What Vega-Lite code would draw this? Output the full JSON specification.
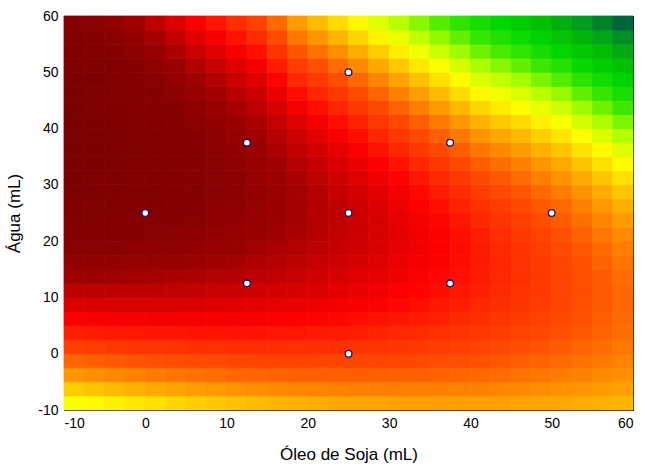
{
"$schema": "https://vega.github.io/schema/vega-lite/v6.json",
"width": 569, "height": 394,
"autosize": {"type": "none"},
"padding": {"left": 64, "top": 16, "right": 12, "bottom": 58},
"background": "white",
"config": {"view": {"stroke": "#000", "strokeWidth": 1}, "font": "Liberation Sans",
 "axis": {"labelFont": "Liberation Sans", "titleFont": "Liberation Sans", "labelFontSize": 14, "titleFontSize": 17, "titleFontWeight": "normal", "labelColor": "#000", "titleColor": "#000", "tickColor": "#000", "domain": false, "grid": false, "tickSize": -5, "labelPadding": 11, "titlePadding": 14, "labelExpr": "'' + datum.value"}},
"resolve": {"scale": {"x": "independent", "y": "independent"}, "axis": {"x": "independent", "y": "independent"}},
"layer": [
{"data": {"values": [
{"x":-8.75,"y":-8.75,"d":2296},{"x":-8.75,"y":-6.25,"d":2064},{"x":-8.75,"y":-3.75,"d":1845},{"x":-8.75,"y":-1.25,"d":1638},{"x":-8.75,"y":1.25,"d":1444},{"x":-8.75,"y":3.75,"d":1262},{"x":-8.75,"y":6.25,"d":1093},{"x":-8.75,"y":8.75,"d":936},{"x":-8.75,"y":11.25,"d":792},{"x":-8.75,"y":13.75,"d":660},{"x":-8.75,"y":16.25,"d":541},{"x":-8.75,"y":18.75,"d":434},{"x":-8.75,"y":21.25,"d":340},{"x":-8.75,"y":23.75,"d":258},{"x":-8.75,"y":26.25,"d":189},{"x":-8.75,"y":28.75,"d":132},{"x":-8.75,"y":31.25,"d":88},{"x":-8.75,"y":33.75,"d":56},{"x":-8.75,"y":36.25,"d":37},{"x":-8.75,"y":38.75,"d":30},{"x":-8.75,"y":41.25,"d":34},{"x":-8.75,"y":43.75,"d":45},{"x":-8.75,"y":46.25,"d":67},{"x":-8.75,"y":48.75,"d":97},{"x":-8.75,"y":51.25,"d":139},{"x":-8.75,"y":53.75,"d":193},{"x":-8.75,"y":56.25,"d":259},{"x":-8.75,"y":58.75,"d":338},
{"x":-6.25,"y":-8.75,"d":2252},{"x":-6.25,"y":-6.25,"d":2026},{"x":-6.25,"y":-3.75,"d":1812},{"x":-6.25,"y":-1.25,"d":1611},{"x":-6.25,"y":1.25,"d":1422},{"x":-6.25,"y":3.75,"d":1246},{"x":-6.25,"y":6.25,"d":1082},{"x":-6.25,"y":8.75,"d":931},{"x":-6.25,"y":11.25,"d":792},{"x":-6.25,"y":13.75,"d":666},{"x":-6.25,"y":16.25,"d":552},{"x":-6.25,"y":18.75,"d":451},{"x":-6.25,"y":21.25,"d":362},{"x":-6.25,"y":23.75,"d":286},{"x":-6.25,"y":26.25,"d":222},{"x":-6.25,"y":28.75,"d":171},{"x":-6.25,"y":31.25,"d":132},{"x":-6.25,"y":33.75,"d":106},{"x":-6.25,"y":36.25,"d":92},{"x":-6.25,"y":38.75,"d":91},{"x":-6.25,"y":41.25,"d":97},{"x":-6.25,"y":43.75,"d":114},{"x":-6.25,"y":46.25,"d":139},{"x":-6.25,"y":48.75,"d":174},{"x":-6.25,"y":51.25,"d":221},{"x":-6.25,"y":53.75,"d":280},{"x":-6.25,"y":56.25,"d":351},{"x":-6.25,"y":58.75,"d":437},
{"x":-3.75,"y":-8.75,"d":2211},{"x":-3.75,"y":-6.25,"d":1990},{"x":-3.75,"y":-3.75,"d":1782},{"x":-3.75,"y":-1.25,"d":1586},{"x":-3.75,"y":1.25,"d":1403},{"x":-3.75,"y":3.75,"d":1232},{"x":-3.75,"y":6.25,"d":1074},{"x":-3.75,"y":8.75,"d":928},{"x":-3.75,"y":11.25,"d":795},{"x":-3.75,"y":13.75,"d":674},{"x":-3.75,"y":16.25,"d":566},{"x":-3.75,"y":18.75,"d":470},{"x":-3.75,"y":21.25,"d":387},{"x":-3.75,"y":23.75,"d":316},{"x":-3.75,"y":26.25,"d":258},{"x":-3.75,"y":28.75,"d":212},{"x":-3.75,"y":31.25,"d":179},{"x":-3.75,"y":33.75,"d":158},{"x":-3.75,"y":36.25,"d":150},{"x":-3.75,"y":38.75,"d":153},{"x":-3.75,"y":41.25,"d":164},{"x":-3.75,"y":43.75,"d":185},{"x":-3.75,"y":46.25,"d":217},{"x":-3.75,"y":48.75,"d":259},{"x":-3.75,"y":51.25,"d":313},{"x":-3.75,"y":53.75,"d":379},{"x":-3.75,"y":56.25,"d":458},{"x":-3.75,"y":58.75,"d":551},
{"x":-1.25,"y":-8.75,"d":2172},{"x":-1.25,"y":-6.25,"d":1957},{"x":-1.25,"y":-3.75,"d":1754},{"x":-1.25,"y":-1.25,"d":1564},{"x":-1.25,"y":1.25,"d":1386},{"x":-1.25,"y":3.75,"d":1221},{"x":-1.25,"y":6.25,"d":1068},{"x":-1.25,"y":8.75,"d":928},{"x":-1.25,"y":11.25,"d":800},{"x":-1.25,"y":13.75,"d":685},{"x":-1.25,"y":16.25,"d":582},{"x":-1.25,"y":18.75,"d":492},{"x":-1.25,"y":21.25,"d":414},{"x":-1.25,"y":23.75,"d":349},{"x":-1.25,"y":26.25,"d":296},{"x":-1.25,"y":28.75,"d":256},{"x":-1.25,"y":31.25,"d":228},{"x":-1.25,"y":33.75,"d":213},{"x":-1.25,"y":36.25,"d":210},{"x":-1.25,"y":38.75,"d":217},{"x":-1.25,"y":41.25,"d":233},{"x":-1.25,"y":43.75,"d":260},{"x":-1.25,"y":46.25,"d":298},{"x":-1.25,"y":48.75,"d":347},{"x":-1.25,"y":51.25,"d":408},{"x":-1.25,"y":53.75,"d":482},{"x":-1.25,"y":56.25,"d":569},{"x":-1.25,"y":58.75,"d":670},
{"x":1.25,"y":-8.75,"d":2136},{"x":1.25,"y":-6.25,"d":1926},{"x":1.25,"y":-3.75,"d":1729},{"x":1.25,"y":-1.25,"d":1544},{"x":1.25,"y":1.25,"d":1372},{"x":1.25,"y":3.75,"d":1212},{"x":1.25,"y":6.25,"d":1065},{"x":1.25,"y":8.75,"d":930},{"x":1.25,"y":11.25,"d":808},{"x":1.25,"y":13.75,"d":698},{"x":1.25,"y":16.25,"d":601},{"x":1.25,"y":18.75,"d":516},{"x":1.25,"y":21.25,"d":444},{"x":1.25,"y":23.75,"d":384},{"x":1.25,"y":26.25,"d":337},{"x":1.25,"y":28.75,"d":302},{"x":1.25,"y":31.25,"d":280},{"x":1.25,"y":33.75,"d":270},{"x":1.25,"y":36.25,"d":272},{"x":1.25,"y":38.75,"d":285},{"x":1.25,"y":41.25,"d":308},{"x":1.25,"y":43.75,"d":342},{"x":1.25,"y":46.25,"d":388},{"x":1.25,"y":48.75,"d":446},{"x":1.25,"y":51.25,"d":517},{"x":1.25,"y":53.75,"d":599},{"x":1.25,"y":56.25,"d":696},{"x":1.25,"y":58.75,"d":806},
{"x":3.75,"y":-8.75,"d":2102},{"x":3.75,"y":-6.25,"d":1898},{"x":3.75,"y":-3.75,"d":1706},{"x":3.75,"y":-1.25,"d":1527},{"x":3.75,"y":1.25,"d":1360},{"x":3.75,"y":3.75,"d":1206},{"x":3.75,"y":6.25,"d":1064},{"x":3.75,"y":8.75,"d":935},{"x":3.75,"y":11.25,"d":818},{"x":3.75,"y":13.75,"d":714},{"x":3.75,"y":16.25,"d":622},{"x":3.75,"y":18.75,"d":543},{"x":3.75,"y":21.25,"d":476},{"x":3.75,"y":23.75,"d":422},{"x":3.75,"y":26.25,"d":380},{"x":3.75,"y":28.75,"d":351},{"x":3.75,"y":31.25,"d":334},{"x":3.75,"y":33.75,"d":330},{"x":3.75,"y":36.25,"d":337},{"x":3.75,"y":38.75,"d":356},{"x":3.75,"y":41.25,"d":387},{"x":3.75,"y":43.75,"d":430},{"x":3.75,"y":46.25,"d":484},{"x":3.75,"y":48.75,"d":551},{"x":3.75,"y":51.25,"d":631},{"x":3.75,"y":53.75,"d":723},{"x":3.75,"y":56.25,"d":828},{"x":3.75,"y":58.75,"d":947},
{"x":6.25,"y":-8.75,"d":2071},{"x":6.25,"y":-6.25,"d":1872},{"x":6.25,"y":-3.75,"d":1686},{"x":6.25,"y":-1.25,"d":1512},{"x":6.25,"y":1.25,"d":1351},{"x":6.25,"y":3.75,"d":1202},{"x":6.25,"y":6.25,"d":1066},{"x":6.25,"y":8.75,"d":942},{"x":6.25,"y":11.25,"d":831},{"x":6.25,"y":13.75,"d":732},{"x":6.25,"y":16.25,"d":646},{"x":6.25,"y":18.75,"d":572},{"x":6.25,"y":21.25,"d":511},{"x":6.25,"y":23.75,"d":462},{"x":6.25,"y":26.25,"d":426},{"x":6.25,"y":28.75,"d":402},{"x":6.25,"y":31.25,"d":391},{"x":6.25,"y":33.75,"d":392},{"x":6.25,"y":36.25,"d":406},{"x":6.25,"y":38.75,"d":432},{"x":6.25,"y":41.25,"d":471},{"x":6.25,"y":43.75,"d":522},{"x":6.25,"y":46.25,"d":586},{"x":6.25,"y":48.75,"d":662},{"x":6.25,"y":51.25,"d":751},{"x":6.25,"y":53.75,"d":852},{"x":6.25,"y":56.25,"d":966},{"x":6.25,"y":58.75,"d":1092},
{"x":8.75,"y":-8.75,"d":2042},{"x":8.75,"y":-6.25,"d":1849},{"x":8.75,"y":-3.75,"d":1668},{"x":8.75,"y":-1.25,"d":1500},{"x":8.75,"y":1.25,"d":1344},{"x":8.75,"y":3.75,"d":1201},{"x":8.75,"y":6.25,"d":1070},{"x":8.75,"y":8.75,"d":952},{"x":8.75,"y":11.25,"d":846},{"x":8.75,"y":13.75,"d":753},{"x":8.75,"y":16.25,"d":672},{"x":8.75,"y":18.75,"d":604},{"x":8.75,"y":21.25,"d":548},{"x":8.75,"y":23.75,"d":505},{"x":8.75,"y":26.25,"d":474},{"x":8.75,"y":28.75,"d":456},{"x":8.75,"y":31.25,"d":450},{"x":8.75,"y":33.75,"d":457},{"x":8.75,"y":36.25,"d":476},{"x":8.75,"y":38.75,"d":508},{"x":8.75,"y":41.25,"d":552},{"x":8.75,"y":43.75,"d":609},{"x":8.75,"y":46.25,"d":678},{"x":8.75,"y":48.75,"d":760},{"x":8.75,"y":51.25,"d":854},{"x":8.75,"y":53.75,"d":961},{"x":8.75,"y":56.25,"d":1080},{"x":8.75,"y":58.75,"d":1212},
{"x":11.25,"y":-8.75,"d":2015},{"x":11.25,"y":-6.25,"d":1828},{"x":11.25,"y":-3.75,"d":1652},{"x":11.25,"y":-1.25,"d":1490},{"x":11.25,"y":1.25,"d":1339},{"x":11.25,"y":3.75,"d":1202},{"x":11.25,"y":6.25,"d":1076},{"x":11.25,"y":8.75,"d":964},{"x":11.25,"y":11.25,"d":863},{"x":11.25,"y":13.75,"d":776},{"x":11.25,"y":16.25,"d":700},{"x":11.25,"y":18.75,"d":638},{"x":11.25,"y":21.25,"d":587},{"x":11.25,"y":23.75,"d":550},{"x":11.25,"y":26.25,"d":524},{"x":11.25,"y":28.75,"d":512},{"x":11.25,"y":31.25,"d":511},{"x":11.25,"y":33.75,"d":524},{"x":11.25,"y":36.25,"d":548},{"x":11.25,"y":38.75,"d":586},{"x":11.25,"y":41.25,"d":635},{"x":11.25,"y":43.75,"d":698},{"x":11.25,"y":46.25,"d":772},{"x":11.25,"y":48.75,"d":860},{"x":11.25,"y":51.25,"d":959},{"x":11.25,"y":53.75,"d":1072},{"x":11.25,"y":56.25,"d":1196},{"x":11.25,"y":58.75,"d":1334},
{"x":13.75,"y":-8.75,"d":1991},{"x":13.75,"y":-6.25,"d":1809},{"x":13.75,"y":-3.75,"d":1639},{"x":13.75,"y":-1.25,"d":1482},{"x":13.75,"y":1.25,"d":1337},{"x":13.75,"y":3.75,"d":1205},{"x":13.75,"y":6.25,"d":1085},{"x":13.75,"y":8.75,"d":978},{"x":13.75,"y":11.25,"d":883},{"x":13.75,"y":13.75,"d":801},{"x":13.75,"y":16.25,"d":731},{"x":13.75,"y":18.75,"d":674},{"x":13.75,"y":21.25,"d":629},{"x":13.75,"y":23.75,"d":597},{"x":13.75,"y":26.25,"d":577},{"x":13.75,"y":28.75,"d":570},{"x":13.75,"y":31.25,"d":575},{"x":13.75,"y":33.75,"d":593},{"x":13.75,"y":36.25,"d":623},{"x":13.75,"y":38.75,"d":666},{"x":13.75,"y":41.25,"d":721},{"x":13.75,"y":43.75,"d":789},{"x":13.75,"y":46.25,"d":869},{"x":13.75,"y":48.75,"d":962},{"x":13.75,"y":51.25,"d":1067},{"x":13.75,"y":53.75,"d":1185},{"x":13.75,"y":56.25,"d":1315},{"x":13.75,"y":58.75,"d":1458},
{"x":16.25,"y":-8.75,"d":1970},{"x":16.25,"y":-6.25,"d":1793},{"x":16.25,"y":-3.75,"d":1629},{"x":16.25,"y":-1.25,"d":1477},{"x":16.25,"y":1.25,"d":1338},{"x":16.25,"y":3.75,"d":1211},{"x":16.25,"y":6.25,"d":1097},{"x":16.25,"y":8.75,"d":995},{"x":16.25,"y":11.25,"d":906},{"x":16.25,"y":13.75,"d":829},{"x":16.25,"y":16.25,"d":765},{"x":16.25,"y":18.75,"d":713},{"x":16.25,"y":21.25,"d":674},{"x":16.25,"y":23.75,"d":647},{"x":16.25,"y":26.25,"d":633},{"x":16.25,"y":28.75,"d":631},{"x":16.25,"y":31.25,"d":645},{"x":16.25,"y":33.75,"d":673},{"x":16.25,"y":36.25,"d":715},{"x":16.25,"y":38.75,"d":772},{"x":16.25,"y":41.25,"d":842},{"x":16.25,"y":43.75,"d":924},{"x":16.25,"y":46.25,"d":1019},{"x":16.25,"y":48.75,"d":1125},{"x":16.25,"y":51.25,"d":1244},{"x":16.25,"y":53.75,"d":1372},{"x":16.25,"y":56.25,"d":1511},{"x":16.25,"y":58.75,"d":1660},
{"x":18.75,"y":-8.75,"d":1950},{"x":18.75,"y":-6.25,"d":1779},{"x":18.75,"y":-3.75,"d":1620},{"x":18.75,"y":-1.25,"d":1474},{"x":18.75,"y":1.25,"d":1340},{"x":18.75,"y":3.75,"d":1219},{"x":18.75,"y":6.25,"d":1110},{"x":18.75,"y":8.75,"d":1014},{"x":18.75,"y":11.25,"d":930},{"x":18.75,"y":13.75,"d":859},{"x":18.75,"y":16.25,"d":800},{"x":18.75,"y":18.75,"d":754},{"x":18.75,"y":21.25,"d":720},{"x":18.75,"y":23.75,"d":699},{"x":18.75,"y":26.25,"d":690},{"x":18.75,"y":28.75,"d":696},{"x":18.75,"y":31.25,"d":719},{"x":18.75,"y":33.75,"d":760},{"x":18.75,"y":36.25,"d":816},{"x":18.75,"y":38.75,"d":887},{"x":18.75,"y":41.25,"d":971},{"x":18.75,"y":43.75,"d":1069},{"x":18.75,"y":46.25,"d":1178},{"x":18.75,"y":48.75,"d":1298},{"x":18.75,"y":51.25,"d":1427},{"x":18.75,"y":53.75,"d":1565},{"x":18.75,"y":56.25,"d":1710},{"x":18.75,"y":58.75,"d":1862},
{"x":21.25,"y":-8.75,"d":1933},{"x":21.25,"y":-6.25,"d":1768},{"x":21.25,"y":-3.75,"d":1614},{"x":21.25,"y":-1.25,"d":1474},{"x":21.25,"y":1.25,"d":1345},{"x":21.25,"y":3.75,"d":1230},{"x":21.25,"y":6.25,"d":1126},{"x":21.25,"y":8.75,"d":1036},{"x":21.25,"y":11.25,"d":957},{"x":21.25,"y":13.75,"d":892},{"x":21.25,"y":16.25,"d":838},{"x":21.25,"y":18.75,"d":798},{"x":21.25,"y":21.25,"d":769},{"x":21.25,"y":23.75,"d":754},{"x":21.25,"y":26.25,"d":750},{"x":21.25,"y":28.75,"d":764},{"x":21.25,"y":31.25,"d":795},{"x":21.25,"y":33.75,"d":843},{"x":21.25,"y":36.25,"d":905},{"x":21.25,"y":38.75,"d":983},{"x":21.25,"y":41.25,"d":1073},{"x":21.25,"y":43.75,"d":1176},{"x":21.25,"y":46.25,"d":1289},{"x":21.25,"y":48.75,"d":1414},{"x":21.25,"y":51.25,"d":1546},{"x":21.25,"y":53.75,"d":1688},{"x":21.25,"y":56.25,"d":1836},{"x":21.25,"y":58.75,"d":1991},
{"x":23.75,"y":-8.75,"d":1919},{"x":23.75,"y":-6.25,"d":1759},{"x":23.75,"y":-3.75,"d":1611},{"x":23.75,"y":-1.25,"d":1476},{"x":23.75,"y":1.25,"d":1353},{"x":23.75,"y":3.75,"d":1243},{"x":23.75,"y":6.25,"d":1145},{"x":23.75,"y":8.75,"d":1060},{"x":23.75,"y":11.25,"d":987},{"x":23.75,"y":13.75,"d":927},{"x":23.75,"y":16.25,"d":879},{"x":23.75,"y":18.75,"d":844},{"x":23.75,"y":21.25,"d":821},{"x":23.75,"y":23.75,"d":811},{"x":23.75,"y":26.25,"d":814},{"x":23.75,"y":28.75,"d":836},{"x":23.75,"y":31.25,"d":874},{"x":23.75,"y":33.75,"d":929},{"x":23.75,"y":36.25,"d":998},{"x":23.75,"y":38.75,"d":1081},{"x":23.75,"y":41.25,"d":1177},{"x":23.75,"y":43.75,"d":1285},{"x":23.75,"y":46.25,"d":1403},{"x":23.75,"y":48.75,"d":1531},{"x":23.75,"y":51.25,"d":1668},{"x":23.75,"y":53.75,"d":1813},{"x":23.75,"y":56.25,"d":1964},{"x":23.75,"y":58.75,"d":2120},
{"x":26.25,"y":-8.75,"d":1907},{"x":26.25,"y":-6.25,"d":1752},{"x":26.25,"y":-3.75,"d":1610},{"x":26.25,"y":-1.25,"d":1480},{"x":26.25,"y":1.25,"d":1363},{"x":26.25,"y":3.75,"d":1258},{"x":26.25,"y":6.25,"d":1166},{"x":26.25,"y":8.75,"d":1086},{"x":26.25,"y":11.25,"d":1019},{"x":26.25,"y":13.75,"d":964},{"x":26.25,"y":16.25,"d":922},{"x":26.25,"y":18.75,"d":892},{"x":26.25,"y":21.25,"d":875},{"x":26.25,"y":23.75,"d":870},{"x":26.25,"y":26.25,"d":882},{"x":26.25,"y":28.75,"d":910},{"x":26.25,"y":31.25,"d":956},{"x":26.25,"y":33.75,"d":1017},{"x":26.25,"y":36.25,"d":1093},{"x":26.25,"y":38.75,"d":1181},{"x":26.25,"y":41.25,"d":1283},{"x":26.25,"y":43.75,"d":1395},{"x":26.25,"y":46.25,"d":1518},{"x":26.25,"y":48.75,"d":1650},{"x":26.25,"y":51.25,"d":1791},{"x":26.25,"y":53.75,"d":1938},{"x":26.25,"y":56.25,"d":2092},{"x":26.25,"y":58.75,"d":2250},
{"x":28.75,"y":-8.75,"d":1897},{"x":28.75,"y":-6.25,"d":1748},{"x":28.75,"y":-3.75,"d":1611},{"x":28.75,"y":-1.25,"d":1487},{"x":28.75,"y":1.25,"d":1375},{"x":28.75,"y":3.75,"d":1276},{"x":28.75,"y":6.25,"d":1189},{"x":28.75,"y":8.75,"d":1115},{"x":28.75,"y":11.25,"d":1053},{"x":28.75,"y":13.75,"d":1004},{"x":28.75,"y":16.25,"d":967},{"x":28.75,"y":18.75,"d":943},{"x":28.75,"y":21.25,"d":931},{"x":28.75,"y":23.75,"d":933},{"x":28.75,"y":26.25,"d":952},{"x":28.75,"y":28.75,"d":989},{"x":28.75,"y":31.25,"d":1041},{"x":28.75,"y":33.75,"d":1109},{"x":28.75,"y":36.25,"d":1190},{"x":28.75,"y":38.75,"d":1284},{"x":28.75,"y":41.25,"d":1391},{"x":28.75,"y":43.75,"d":1508},{"x":28.75,"y":46.25,"d":1635},{"x":28.75,"y":48.75,"d":1771},{"x":28.75,"y":51.25,"d":1914},{"x":28.75,"y":53.75,"d":2065},{"x":28.75,"y":56.25,"d":2221},{"x":28.75,"y":58.75,"d":2382},
{"x":31.25,"y":-8.75,"d":1890},{"x":31.25,"y":-6.25,"d":1746},{"x":31.25,"y":-3.75,"d":1615},{"x":31.25,"y":-1.25,"d":1496},{"x":31.25,"y":1.25,"d":1390},{"x":31.25,"y":3.75,"d":1296},{"x":31.25,"y":6.25,"d":1215},{"x":31.25,"y":8.75,"d":1146},{"x":31.25,"y":11.25,"d":1090},{"x":31.25,"y":13.75,"d":1046},{"x":31.25,"y":16.25,"d":1015},{"x":31.25,"y":18.75,"d":996},{"x":31.25,"y":21.25,"d":990},{"x":31.25,"y":23.75,"d":999},{"x":31.25,"y":26.25,"d":1026},{"x":31.25,"y":28.75,"d":1069},{"x":31.25,"y":31.25,"d":1129},{"x":31.25,"y":33.75,"d":1202},{"x":31.25,"y":36.25,"d":1290},{"x":31.25,"y":38.75,"d":1390},{"x":31.25,"y":41.25,"d":1501},{"x":31.25,"y":43.75,"d":1623},{"x":31.25,"y":46.25,"d":1754},{"x":31.25,"y":48.75,"d":1893},{"x":31.25,"y":51.25,"d":2040},{"x":31.25,"y":53.75,"d":2193},{"x":31.25,"y":56.25,"d":2351},{"x":31.25,"y":58.75,"d":2513},
{"x":33.75,"y":-8.75,"d":1885},{"x":33.75,"y":-6.25,"d":1747},{"x":33.75,"y":-3.75,"d":1621},{"x":33.75,"y":-1.25,"d":1508},{"x":33.75,"y":1.25,"d":1407},{"x":33.75,"y":3.75,"d":1319},{"x":33.75,"y":6.25,"d":1243},{"x":33.75,"y":8.75,"d":1180},{"x":33.75,"y":11.25,"d":1129},{"x":33.75,"y":13.75,"d":1091},{"x":33.75,"y":16.25,"d":1065},{"x":33.75,"y":18.75,"d":1052},{"x":33.75,"y":21.25,"d":1052},{"x":33.75,"y":23.75,"d":1069},{"x":33.75,"y":26.25,"d":1103},{"x":33.75,"y":28.75,"d":1154},{"x":33.75,"y":31.25,"d":1219},{"x":33.75,"y":33.75,"d":1300},{"x":33.75,"y":36.25,"d":1392},{"x":33.75,"y":38.75,"d":1498},{"x":33.75,"y":41.25,"d":1613},{"x":33.75,"y":43.75,"d":1739},{"x":33.75,"y":46.25,"d":1874},{"x":33.75,"y":48.75,"d":2017},{"x":33.75,"y":51.25,"d":2166},{"x":33.75,"y":53.75,"d":2322},{"x":33.75,"y":56.25,"d":2482},{"x":33.75,"y":58.75,"d":2646},
{"x":36.25,"y":-8.75,"d":1883},{"x":36.25,"y":-6.25,"d":1750},{"x":36.25,"y":-3.75,"d":1630},{"x":36.25,"y":-1.25,"d":1522},{"x":36.25,"y":1.25,"d":1427},{"x":36.25,"y":3.75,"d":1344},{"x":36.25,"y":6.25,"d":1274},{"x":36.25,"y":8.75,"d":1216},{"x":36.25,"y":11.25,"d":1171},{"x":36.25,"y":13.75,"d":1138},{"x":36.25,"y":16.25,"d":1118},{"x":36.25,"y":18.75,"d":1110},{"x":36.25,"y":21.25,"d":1117},{"x":36.25,"y":23.75,"d":1142},{"x":36.25,"y":26.25,"d":1184},{"x":36.25,"y":28.75,"d":1241},{"x":36.25,"y":31.25,"d":1313},{"x":36.25,"y":33.75,"d":1399},{"x":36.25,"y":36.25,"d":1497},{"x":36.25,"y":38.75,"d":1607},{"x":36.25,"y":41.25,"d":1728},{"x":36.25,"y":43.75,"d":1858},{"x":36.25,"y":46.25,"d":1996},{"x":36.25,"y":48.75,"d":2142},{"x":36.25,"y":51.25,"d":2294},{"x":36.25,"y":53.75,"d":2452},{"x":36.25,"y":56.25,"d":2614},{"x":36.25,"y":58.75,"d":2779},
{"x":38.75,"y":-8.75,"d":1883},{"x":38.75,"y":-6.25,"d":1756},{"x":38.75,"y":-3.75,"d":1641},{"x":38.75,"y":-1.25,"d":1539},{"x":38.75,"y":1.25,"d":1449},{"x":38.75,"y":3.75,"d":1372},{"x":38.75,"y":6.25,"d":1307},{"x":38.75,"y":8.75,"d":1255},{"x":38.75,"y":11.25,"d":1215},{"x":38.75,"y":13.75,"d":1188},{"x":38.75,"y":16.25,"d":1173},{"x":38.75,"y":18.75,"d":1171},{"x":38.75,"y":21.25,"d":1186},{"x":38.75,"y":23.75,"d":1219},{"x":38.75,"y":26.25,"d":1267},{"x":38.75,"y":28.75,"d":1331},{"x":38.75,"y":31.25,"d":1409},{"x":38.75,"y":33.75,"d":1501},{"x":38.75,"y":36.25,"d":1604},{"x":38.75,"y":38.75,"d":1719},{"x":38.75,"y":41.25,"d":1844},{"x":38.75,"y":43.75,"d":1978},{"x":38.75,"y":46.25,"d":2120},{"x":38.75,"y":48.75,"d":2269},{"x":38.75,"y":51.25,"d":2423},{"x":38.75,"y":53.75,"d":2583},{"x":38.75,"y":56.25,"d":2746},{"x":38.75,"y":58.75,"d":2913},
{"x":41.25,"y":-8.75,"d":1885},{"x":41.25,"y":-6.25,"d":1764},{"x":41.25,"y":-3.75,"d":1654},{"x":41.25,"y":-1.25,"d":1558},{"x":41.25,"y":1.25,"d":1473},{"x":41.25,"y":3.75,"d":1402},{"x":41.25,"y":6.25,"d":1342},{"x":41.25,"y":8.75,"d":1296},{"x":41.25,"y":11.25,"d":1261},{"x":41.25,"y":13.75,"d":1240},{"x":41.25,"y":16.25,"d":1230},{"x":41.25,"y":18.75,"d":1236},{"x":41.25,"y":21.25,"d":1258},{"x":41.25,"y":23.75,"d":1298},{"x":41.25,"y":26.25,"d":1353},{"x":41.25,"y":28.75,"d":1424},{"x":41.25,"y":31.25,"d":1508},{"x":41.25,"y":33.75,"d":1605},{"x":41.25,"y":36.25,"d":1713},{"x":41.25,"y":38.75,"d":1833},{"x":41.25,"y":41.25,"d":1961},{"x":41.25,"y":43.75,"d":2100},{"x":41.25,"y":46.25,"d":2244},{"x":41.25,"y":48.75,"d":2396},{"x":41.25,"y":51.25,"d":2552},{"x":41.25,"y":53.75,"d":2715},{"x":41.25,"y":56.25,"d":2879},{"x":41.25,"y":58.75,"d":3047},
{"x":43.75,"y":-8.75,"d":1890},{"x":43.75,"y":-6.25,"d":1774},{"x":43.75,"y":-3.75,"d":1670},{"x":43.75,"y":-1.25,"d":1579},{"x":43.75,"y":1.25,"d":1500},{"x":43.75,"y":3.75,"d":1434},{"x":43.75,"y":6.25,"d":1380},{"x":43.75,"y":8.75,"d":1339},{"x":43.75,"y":11.25,"d":1310},{"x":43.75,"y":13.75,"d":1294},{"x":43.75,"y":16.25,"d":1290},{"x":43.75,"y":18.75,"d":1302},{"x":43.75,"y":21.25,"d":1329},{"x":43.75,"y":23.75,"d":1372},{"x":43.75,"y":26.25,"d":1430},{"x":43.75,"y":28.75,"d":1501},{"x":43.75,"y":31.25,"d":1585},{"x":43.75,"y":33.75,"d":1682},{"x":43.75,"y":36.25,"d":1790},{"x":43.75,"y":38.75,"d":1910},{"x":43.75,"y":41.25,"d":2039},{"x":43.75,"y":43.75,"d":2178},{"x":43.75,"y":46.25,"d":2325},{"x":43.75,"y":48.75,"d":2481},{"x":43.75,"y":51.25,"d":2643},{"x":43.75,"y":53.75,"d":2813},{"x":43.75,"y":56.25,"d":2987},{"x":43.75,"y":58.75,"d":3168},
{"x":46.25,"y":-8.75,"d":1898},{"x":46.25,"y":-6.25,"d":1787},{"x":46.25,"y":-3.75,"d":1689},{"x":46.25,"y":-1.25,"d":1603},{"x":46.25,"y":1.25,"d":1530},{"x":46.25,"y":3.75,"d":1469},{"x":46.25,"y":6.25,"d":1421},{"x":46.25,"y":8.75,"d":1385},{"x":46.25,"y":11.25,"d":1362},{"x":46.25,"y":13.75,"d":1351},{"x":46.25,"y":16.25,"d":1354},{"x":46.25,"y":18.75,"d":1370},{"x":46.25,"y":21.25,"d":1401},{"x":46.25,"y":23.75,"d":1446},{"x":46.25,"y":26.25,"d":1505},{"x":46.25,"y":28.75,"d":1576},{"x":46.25,"y":31.25,"d":1661},{"x":46.25,"y":33.75,"d":1757},{"x":46.25,"y":36.25,"d":1866},{"x":46.25,"y":38.75,"d":1985},{"x":46.25,"y":41.25,"d":2116},{"x":46.25,"y":43.75,"d":2257},{"x":46.25,"y":46.25,"d":2408},{"x":46.25,"y":48.75,"d":2569},{"x":46.25,"y":51.25,"d":2740},{"x":46.25,"y":53.75,"d":2919},{"x":46.25,"y":56.25,"d":3107},{"x":46.25,"y":58.75,"d":3303},
{"x":48.75,"y":-8.75,"d":1907},{"x":48.75,"y":-6.25,"d":1802},{"x":48.75,"y":-3.75,"d":1709},{"x":48.75,"y":-1.25,"d":1629},{"x":48.75,"y":1.25,"d":1561},{"x":48.75,"y":3.75,"d":1506},{"x":48.75,"y":6.25,"d":1463},{"x":48.75,"y":8.75,"d":1433},{"x":48.75,"y":11.25,"d":1415},{"x":48.75,"y":13.75,"d":1410},{"x":48.75,"y":16.25,"d":1418},{"x":48.75,"y":18.75,"d":1439},{"x":48.75,"y":21.25,"d":1474},{"x":48.75,"y":23.75,"d":1522},{"x":48.75,"y":26.25,"d":1583},{"x":48.75,"y":28.75,"d":1656},{"x":48.75,"y":31.25,"d":1742},{"x":48.75,"y":33.75,"d":1840},{"x":48.75,"y":36.25,"d":1951},{"x":48.75,"y":38.75,"d":2073},{"x":48.75,"y":41.25,"d":2207},{"x":48.75,"y":43.75,"d":2352},{"x":48.75,"y":46.25,"d":2508},{"x":48.75,"y":48.75,"d":2676},{"x":48.75,"y":51.25,"d":2854},{"x":48.75,"y":53.75,"d":3043},{"x":48.75,"y":56.25,"d":3242},{"x":48.75,"y":58.75,"d":3453},
{"x":51.25,"y":-8.75,"d":1919},{"x":51.25,"y":-6.25,"d":1820},{"x":51.25,"y":-3.75,"d":1732},{"x":51.25,"y":-1.25,"d":1658},{"x":51.25,"y":1.25,"d":1595},{"x":51.25,"y":3.75,"d":1546},{"x":51.25,"y":6.25,"d":1508},{"x":51.25,"y":8.75,"d":1484},{"x":51.25,"y":11.25,"d":1471},{"x":51.25,"y":13.75,"d":1472},{"x":51.25,"y":16.25,"d":1484},{"x":51.25,"y":18.75,"d":1510},{"x":51.25,"y":21.25,"d":1547},{"x":51.25,"y":23.75,"d":1598},{"x":51.25,"y":26.25,"d":1660},{"x":51.25,"y":28.75,"d":1736},{"x":51.25,"y":31.25,"d":1823},{"x":51.25,"y":33.75,"d":1924},{"x":51.25,"y":36.25,"d":2036},{"x":51.25,"y":38.75,"d":2162},{"x":51.25,"y":41.25,"d":2299},{"x":51.25,"y":43.75,"d":2450},{"x":51.25,"y":46.25,"d":2612},{"x":51.25,"y":48.75,"d":2788},{"x":51.25,"y":51.25,"d":2975},{"x":51.25,"y":53.75,"d":3176},{"x":51.25,"y":56.25,"d":3388},{"x":51.25,"y":58.75,"d":3614},
{"x":53.75,"y":-8.75,"d":1934},{"x":53.75,"y":-6.25,"d":1840},{"x":53.75,"y":-3.75,"d":1758},{"x":53.75,"y":-1.25,"d":1689},{"x":53.75,"y":1.25,"d":1632},{"x":53.75,"y":3.75,"d":1588},{"x":53.75,"y":6.25,"d":1556},{"x":53.75,"y":8.75,"d":1537},{"x":53.75,"y":11.25,"d":1530},{"x":53.75,"y":13.75,"d":1536},{"x":53.75,"y":16.25,"d":1554},{"x":53.75,"y":18.75,"d":1585},{"x":53.75,"y":21.25,"d":1628},{"x":53.75,"y":23.75,"d":1684},{"x":53.75,"y":26.25,"d":1752},{"x":53.75,"y":28.75,"d":1833},{"x":53.75,"y":31.25,"d":1926},{"x":53.75,"y":33.75,"d":2032},{"x":53.75,"y":36.25,"d":2150},{"x":53.75,"y":38.75,"d":2281},{"x":53.75,"y":41.25,"d":2424},{"x":53.75,"y":43.75,"d":2580},{"x":53.75,"y":46.25,"d":2748},{"x":53.75,"y":48.75,"d":2929},{"x":53.75,"y":51.25,"d":3122},{"x":53.75,"y":53.75,"d":3328},{"x":53.75,"y":56.25,"d":3546},{"x":53.75,"y":58.75,"d":3777},
{"x":56.25,"y":-8.75,"d":1951},{"x":56.25,"y":-6.25,"d":1862},{"x":56.25,"y":-3.75,"d":1786},{"x":56.25,"y":-1.25,"d":1722},{"x":56.25,"y":1.25,"d":1671},{"x":56.25,"y":3.75,"d":1632},{"x":56.25,"y":6.25,"d":1606},{"x":56.25,"y":8.75,"d":1592},{"x":56.25,"y":11.25,"d":1591},{"x":56.25,"y":13.75,"d":1602},{"x":56.25,"y":16.25,"d":1626},{"x":56.25,"y":18.75,"d":1662},{"x":56.25,"y":21.25,"d":1711},{"x":56.25,"y":23.75,"d":1772},{"x":56.25,"y":26.25,"d":1846},{"x":56.25,"y":28.75,"d":1932},{"x":56.25,"y":31.25,"d":2031},{"x":56.25,"y":33.75,"d":2142},{"x":56.25,"y":36.25,"d":2266},{"x":56.25,"y":38.75,"d":2402},{"x":56.25,"y":41.25,"d":2551},{"x":56.25,"y":43.75,"d":2712},{"x":56.25,"y":46.25,"d":2886},{"x":56.25,"y":48.75,"d":3072},{"x":56.25,"y":51.25,"d":3271},{"x":56.25,"y":53.75,"d":3482},{"x":56.25,"y":56.25,"d":3706},{"x":56.25,"y":58.75,"d":3942},
{"x":58.75,"y":-8.75,"d":1970},{"x":58.75,"y":-6.25,"d":1887},{"x":58.75,"y":-3.75,"d":1816},{"x":58.75,"y":-1.25,"d":1758},{"x":58.75,"y":1.25,"d":1712},{"x":58.75,"y":3.75,"d":1679},{"x":58.75,"y":6.25,"d":1658},{"x":58.75,"y":8.75,"d":1650},{"x":58.75,"y":11.25,"d":1654},{"x":58.75,"y":13.75,"d":1671},{"x":58.75,"y":16.25,"d":1700},{"x":58.75,"y":18.75,"d":1742},{"x":58.75,"y":21.25,"d":1796},{"x":58.75,"y":23.75,"d":1863},{"x":58.75,"y":26.25,"d":1942},{"x":58.75,"y":28.75,"d":2034},{"x":58.75,"y":31.25,"d":2138},{"x":58.75,"y":33.75,"d":2255},{"x":58.75,"y":36.25,"d":2384},{"x":58.75,"y":38.75,"d":2526},{"x":58.75,"y":41.25,"d":2680},{"x":58.75,"y":43.75,"d":2847},{"x":58.75,"y":46.25,"d":3026},{"x":58.75,"y":48.75,"d":3218},{"x":58.75,"y":51.25,"d":3422},{"x":58.75,"y":53.75,"d":3639},{"x":58.75,"y":56.25,"d":3868},{"x":58.75,"y":58.75,"d":4110}
]},
"mark": {"type": "rect", "strokeWidth": 0.8},
"encoding": {
 "x": {"field": "x", "type": "ordinal", "axis": null, "scale": {"paddingInner": 0, "paddingOuter": 0}},
 "y": {"field": "y", "type": "ordinal", "sort": "descending", "axis": null, "scale": {"paddingInner": 0, "paddingOuter": 0}},
 "fill": {"field": "d", "type": "quantitative", "legend": null, "scale": {"type": "linear", "interpolate": "rgb", "domain": [0, 450, 650, 888, 1116, 1300, 1550, 1750, 1980, 2200, 2280, 2540, 2835, 3150, 3450, 3800, 4110], "range": ["#7a0000", "#880000", "#9c0000", "#d00000", "#ff0000", "#ff2800", "#ff5000", "#ff8000", "#ffb800", "#fff000", "#ffff00", "#b0ff00", "#40e800", "#00d800", "#00c000", "#009a20", "#00663a"]}},
 "stroke": {"field": "d", "type": "quantitative", "legend": null, "scale": {"type": "linear", "interpolate": "rgb", "domain": [0, 450, 650, 888, 1116, 1300, 1550, 1750, 1980, 2200, 2280, 2540, 2835, 3150, 3450, 3800, 4110], "range": ["#7a0000", "#880000", "#9c0000", "#d00000", "#ff0000", "#ff2800", "#ff5000", "#ff8000", "#ffb800", "#fff000", "#ffff00", "#b0ff00", "#40e800", "#00d800", "#00c000", "#009a20", "#00663a"]}}
}},
{"data": {"values": [{"x":0,"y":25},{"x":12.5,"y":37.5},{"x":12.5,"y":12.5},{"x":25,"y":50},{"x":25,"y":25},{"x":25,"y":0},{"x":37.5,"y":37.5},{"x":37.5,"y":12.5},{"x":50,"y":25}]},
"mark": {"type": "point", "shape": "circle", "filled": true, "size": 45, "fill": "#ffffff", "stroke": "#1c1470", "strokeWidth": 1.3, "opacity": 1},
"encoding": {
 "x": {"field": "x", "type": "quantitative", "scale": {"domain": [-10, 60], "nice": false, "zero": false}, "axis": {"orient": "bottom", "values": [-10, 0, 10, 20, 30, 40, 50, 60], "title": "Óleo de Soja (mL)", "titlePadding": 16}},
 "y": {"field": "y", "type": "quantitative", "scale": {"domain": [-10, 60], "nice": false, "zero": false}, "axis": {"orient": "left", "values": [-10, 0, 10, 20, 30, 40, 50, 60], "title": "Água (mL)"}}
}},
{"data": {"values": [{"x":0,"y":25}]},
"mark": {"type": "point", "opacity": 0},
"encoding": {
 "x": {"field": "x", "type": "quantitative", "scale": {"domain": [-10, 60], "nice": false, "zero": false}, "axis": {"orient": "top", "values": [-10, 0, 10, 20, 30, 40, 50, 60], "labels": false, "title": null}},
 "y": {"field": "y", "type": "quantitative", "scale": {"domain": [-10, 60], "nice": false, "zero": false}, "axis": {"orient": "right", "values": [-10, 0, 10, 20, 30, 40, 50, 60], "labels": false, "title": null}}
}}
]
}
